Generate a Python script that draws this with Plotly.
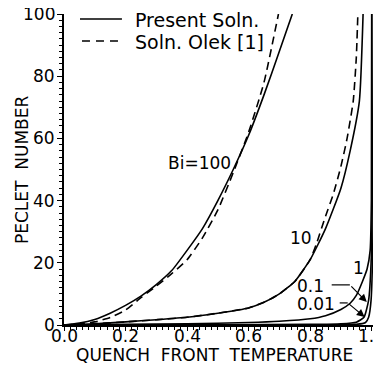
import plotly.graph_objects as go

# ---- data ----
bi100_x = [0, 0.05, 0.1, 0.15, 0.2, 0.25, 0.3, 0.35, 0.4, 0.45, 0.5, 0.55, 0.6, 0.65, 0.7, 0.742]
bi100_y = [0, 0.6, 1.8, 3.8, 6.3, 9.3, 13, 17.5, 24, 31, 40, 50, 61, 74, 88, 100]
bi100_olek_x = [0, 0.05, 0.1, 0.15, 0.2, 0.25, 0.3, 0.35, 0.4, 0.45, 0.5, 0.55, 0.6, 0.65, 0.697]
bi100_olek_y = [0, 0.3, 1.0, 2.4, 4.8, 8.8, 12.5, 16.5, 21, 28, 37, 49, 62, 78, 100]

bi10_x = [0, 0.1, 0.2, 0.3, 0.4, 0.5, 0.6, 0.65, 0.7, 0.75, 0.8, 0.85, 0.9, 0.93, 0.96, 0.972]
bi10_y = [0, 0.4, 1.0, 1.7, 2.5, 3.8, 5.5, 7.3, 10, 14, 21, 31, 44, 56, 72, 100]
bi10_olek_x = [0, 0.1, 0.2, 0.3, 0.4, 0.5, 0.6, 0.65, 0.7, 0.75, 0.8, 0.82, 0.85, 0.875, 0.9, 0.92, 0.94, 0.95, 0.955]
bi10_olek_y = [0, 0.4, 1.0, 1.7, 2.5, 3.8, 5.5, 7.3, 10, 14, 21, 26, 35, 42, 51, 60, 72, 86, 100]

bi1_x = [0, 0.2, 0.4, 0.6, 0.7, 0.8, 0.85, 0.9, 0.93, 0.95, 0.97, 0.985, 0.995, 0.999, 1.0]
bi1_y = [0, 0.2, 0.4, 0.8, 1.2, 2.0, 3.0, 5.0, 7.0, 9.5, 14, 18, 24, 40, 100]

bi01_x = [0, 0.5, 0.8, 0.9, 0.95, 0.975, 0.99, 0.998, 1.003, 1.005]
bi01_y = [0, 0.1, 0.2, 0.4, 0.9, 2.5, 8, 20, 50, 100]

bi001_x = [0, 0.8, 0.9, 0.95, 0.98, 0.99, 0.998, 1.006, 1.009]
bi001_y = [0, 0.05, 0.1, 0.2, 0.8, 2.5, 8, 40, 100]

x_ticks = [0.0, 0.2, 0.4, 0.6, 0.8, 1.0]
x_ticklabels = ["0.0", "0.2", "0.4", "0.6", "0.8", "1.0"]
y_ticks = [0, 20, 40, 60, 80, 100]
y_ticklabels = ["0", "20", "40", "60", "80", "100"]

curve_labels = ["Bi=100", "10", "1", "0.1", "0.01"]
legend_labels = ["Present Soln.", "Soln. Olek [1]"]

FONT = "DejaVu Sans"
LW = 1.6
XMAX = 1.014
SCALE = 308.0   # px per unit x
YSCALE = 3.11   # px per unit y

fig = go.Figure()

def add(x, y, dash="solid"):
    fig.add_trace(go.Scatter(x=x, y=y, mode="lines", showlegend=False,
                             line=dict(color="black", width=LW, dash=dash, shape="spline", smoothing=0.5),
                             hoverinfo="skip"))

add(bi100_x, bi100_y)
add(bi100_olek_x, bi100_olek_y, "8px,5px")
add(bi10_x, bi10_y)
add(bi10_olek_x, bi10_olek_y, "8px,5px")
add(bi1_x, bi1_y)
add(bi01_x, bi01_y)
add(bi001_x, bi001_y)

# reference pixel -> data / paper coordinates
def px2x(px):
    return (px - 64) / SCALE

def py2y(py):
    return (325 - py) / YSCALE

def px2paper_x(px):
    return (px - 64) / (SCALE * XMAX)

def px2paper_y(py):
    return (325 - py) / 311.0

annotations = []
# curve labels
lab_pos = [(0.44, 52), (0.77, 28), (0.958, 18.3), (0.80, 12.5), (0.82, 6.8)]
for t, (lx, ly) in zip(curve_labels, lab_pos):
    annotations.append(dict(x=lx, y=ly, xref="x", yref="y", text=t, showarrow=False,
                            xanchor="center", yanchor="middle",
                            font=dict(family=FONT, size=17, color="black")))

shapes = []
# leaders for 0.1 and 0.01
shapes.append(dict(type="line", xref="x", yref="y", x0=0.87, y0=12.9, x1=0.929, y1=12.9,
                   line=dict(color="black", width=1.2)))
shapes.append(dict(type="line", xref="x", yref="y", x0=0.896, y0=7.1, x1=0.922, y1=7.1,
                   line=dict(color="black", width=1.2)))
annotations.append(dict(x=0.984, y=7.4, ax=0.929, ay=12.9, xref="x", yref="y", axref="x", ayref="y",
                        text="", showarrow=True, arrowhead=2, arrowsize=1.3, arrowwidth=1.2, arrowcolor="black"))
annotations.append(dict(x=0.977, y=2.6, ax=0.922, ay=7.1, xref="x", yref="y", axref="x", ayref="y",
                        text="", showarrow=True, arrowhead=2, arrowsize=1.3, arrowwidth=1.2, arrowcolor="black"))

# manual legend (data coordinates)
shapes.append(dict(type="line", xref="x", yref="y", x0=px2x(80), x1=px2x(122),
                   y0=py2y(19), y1=py2y(19), line=dict(color="black", width=LW)))
shapes.append(dict(type="line", xref="x", yref="y", x0=px2x(82), x1=px2x(122),
                   y0=py2y(41), y1=py2y(41), line=dict(color="black", width=LW, dash="8px,6px")))
for lbl, py in zip(legend_labels, [20, 42]):
    annotations.append(dict(x=px2x(133), y=py2y(py), xref="x", yref="y",
                            xanchor="left", yanchor="middle",
                            text=lbl, showarrow=False, font=dict(family=FONT, size=19, color="black")))

# tick labels as text
for v, t in zip(x_ticks, x_ticklabels):
    annotations.append(dict(x=v, y=px2paper_y(336), xref="x", yref="paper", text=t, showarrow=False,
                            xanchor="center", yanchor="middle", font=dict(family=FONT, size=17, color="black")))
for v, t in zip(y_ticks, y_ticklabels):
    annotations.append(dict(x=px2paper_x(57), y=v, xref="paper", yref="y", text=t, showarrow=False,
                            xanchor="right", yanchor="middle", font=dict(family=FONT, size=17, color="black")))

# axis titles
annotations.append(dict(x=px2paper_x(215), y=px2paper_y(355), xref="paper", yref="paper",
                        xanchor="center", yanchor="middle",
                        text="QUENCH  FRONT  TEMPERATURE", showarrow=False,
                        font=dict(family=FONT, size=17, color="black")))
annotations.append(dict(x=px2paper_x(22), y=px2paper_y(170), xref="paper", yref="paper",
                        xanchor="center", yanchor="middle",
                        text="PECLET  NUMBER", showarrow=False, textangle=-90,
                        font=dict(family=FONT, size=17, color="black")))

W, H = 373, 363
left = 56
top = 6
bottom = H - 317
right = W - (left + SCALE * XMAX)

fig.update_layout(
    width=W, height=H,
    margin=dict(l=left, r=right, t=top, b=bottom, autoexpand=False),
    paper_bgcolor="white", plot_bgcolor="white",
    shapes=shapes, annotations=annotations,
    font=dict(family=FONT, size=16, color="black"),
)
fig.update_xaxes(range=[0, XMAX], tickvals=x_ticks, showticklabels=False, showgrid=False, zeroline=False,
                 showline=True, linecolor="black", linewidth=2, ticks="outside", ticklen=4, tickwidth=1.2,
                 tickcolor="black", minor=dict(dtick=0.02, ticks="outside", ticklen=3, tickwidth=1, tickcolor="black"))
fig.update_yaxes(range=[0, 100], tickvals=y_ticks, showticklabels=False, showgrid=False, zeroline=False,
                 showline=True, linecolor="black", linewidth=2, ticks="outside", ticklen=5, tickwidth=1.2,
                 tickcolor="black", minor=dict(dtick=2, ticks="outside", ticklen=3, tickwidth=1, tickcolor="black"))

fig.write_html("out.html")
